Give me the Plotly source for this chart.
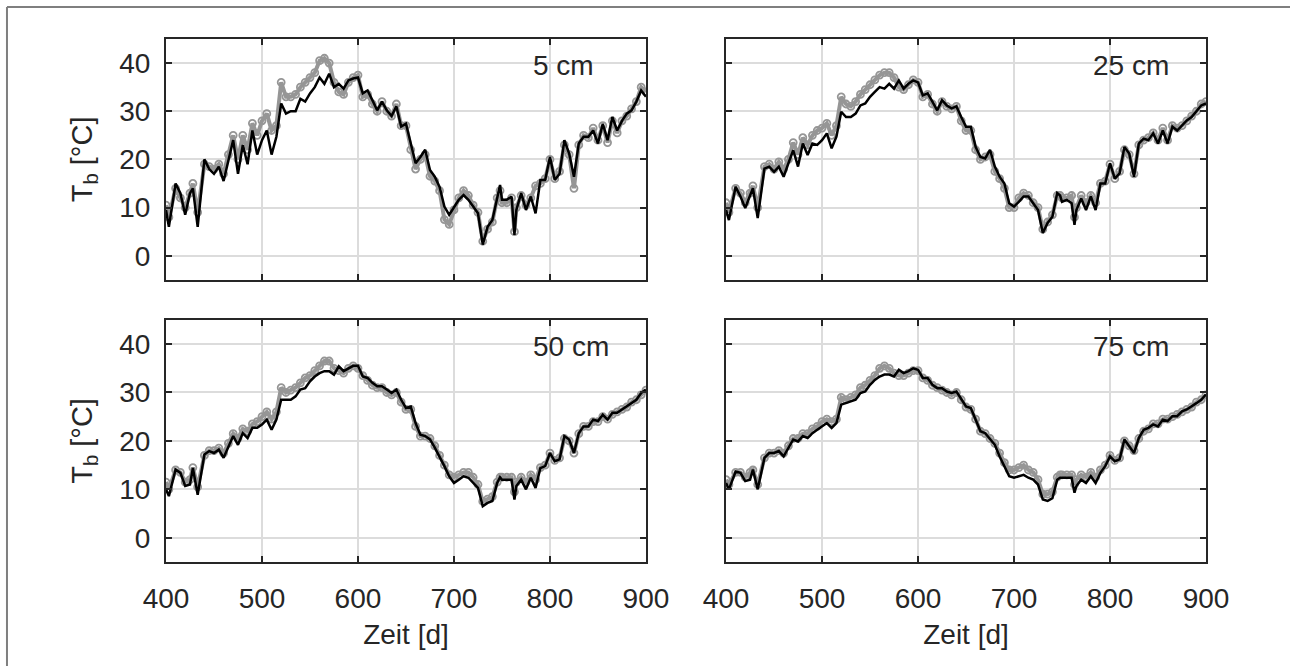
import plotly.graph_objects as go

days = [400, 403, 410, 415, 420, 425, 428, 433, 440, 445,
        450, 455, 460, 465, 470, 475, 480, 485, 490, 495,
        500, 505, 510, 515, 520, 525, 530, 535, 540, 545,
        550, 555, 560, 565, 570, 575, 580, 585, 590, 595,
        600, 605, 610, 615, 620, 625, 630, 635, 640, 645,
        650, 655, 660, 665, 670, 675, 680, 685, 690, 695,
        700, 705, 710, 715, 720, 725, 730, 735, 740, 745,
        748, 750, 755, 760, 763, 765, 770, 775, 780, 785,
        790, 795, 800, 805, 810, 815, 820, 825, 830, 835,
        840, 845, 850, 855, 860, 865, 870, 875, 880, 885,
        890, 895, 900]

sim_5 = [9.5, 6, 15, 13, 8.5, 13, 14, 6, 20, 18,
         17, 18.5, 15.5, 20, 24, 17, 23, 19, 26, 21,
         24, 26, 21, 24.7, 31.6, 29.5, 30, 30, 32.6, 32,
         33.7, 35, 37, 35.7, 37.8, 35, 35.7, 34.7, 36.4, 36.8,
         37, 33.7, 34.3, 32.3, 30.2, 32, 30.2, 29, 31, 26.8,
         27.4, 23.3, 19.2, 20.5, 22, 17.8, 16.4, 14.3, 10.2, 8.5,
         10.2, 11.6, 12.6, 11.6, 10.2, 8.8, 2.3, 6, 7.4, 12.3,
         14.7, 11.6, 11.6, 12.3, 4.3, 9.5, 13, 9.5, 12.3, 8.8,
         15.7, 15.7, 20.5, 15.7, 17, 24, 21.2, 16.4, 23.3, 24.7,
         24.7, 26, 23.3, 27.4, 24, 28.8, 26, 28, 29.5, 30.2,
         32, 34.3, 33]
meas_5 = [10.5, 8, 14, 12, 10, 13, 15, 9, 19, 18.5,
          18, 19, 17, 21, 25, 20, 25, 22, 27.5, 25,
          28, 29.5, 26, 27, 36, 33, 33, 33.5, 35, 36,
          37, 38, 40.5, 41, 40, 36, 34, 33.5, 36, 37,
          37.5, 33, 33.5, 31.5, 30, 32, 30, 29, 31.5, 27,
          27, 22, 18, 20, 21, 16.5, 15.5, 13.5, 7.5, 6.5,
          9.5, 12, 13.5, 12.5, 10.5, 9, 3, 5.5, 7, 12,
          13.5, 11, 11, 12, 5, 10, 12.5, 10.5, 12, 14.5,
          15, 16, 20, 16, 17.5, 23, 21, 14, 23, 25,
          24.5, 26.5, 24, 27, 23.5, 28, 25.5, 28, 29, 30.5,
          32, 35, 34]

sim_25 = [9.5, 7.4, 14.3, 12.3, 9.9, 12.3, 14, 7.8, 18.1, 18.5,
          17.4, 18.5, 16.4, 19.2, 21.9, 18.5, 23.3, 20.9, 23.3, 23,
          24, 25.4, 22.3, 24.7, 29.9, 28.8, 28.8, 29.5, 31.2, 31.6,
          33, 34, 35, 34.7, 35.7, 34.7, 36.4, 34.7, 35.7, 36.4,
          36, 33.3, 33.7, 32, 30.2, 32.3, 31.2, 30.6, 31, 28.8,
          26.8, 26.8, 22.6, 20.5, 20.2, 22, 18.5, 16.4, 15, 10.9,
          10.2, 11.2, 12.3, 12.3, 10.9, 9.5, 4.7, 6.8, 8.1, 13,
          12.5, 11.2, 11.6, 10.9, 6.4, 9.5, 11.9, 9.5, 12.3, 9.5,
          15, 15, 19.2, 16, 17.1, 22.6, 21.2, 16.4, 23.3, 24.3,
          24, 25.4, 23.3, 26, 23.3, 26.8, 26, 27.1, 28.1, 28.8,
          29.9, 31.2, 31.6]
meas_25 = [11, 9, 14, 13, 11, 13, 14.5, 10, 18.5, 19,
           18, 19.5, 18, 20, 23.5, 21, 24.5, 23, 25, 26,
           26.5, 27.5, 25, 27, 33, 31.5, 31, 32, 33.5, 34.5,
           35.5, 36.5, 37.5, 38, 38, 37, 35, 34.5, 35.5, 36.5,
           36, 33, 33.5, 31.5, 30, 32, 31, 30.5, 31, 28,
           26, 26, 22, 20, 20.5, 21, 17.5, 16, 14, 10,
           10, 12, 13, 12.5, 11, 10, 5.5, 7, 8.5, 12.5,
           12.5, 12, 12, 12.5, 8, 10, 12.5, 11, 12.5, 11,
           15, 15.5, 19, 16, 17.5, 22, 21, 17, 23, 24,
           24.5, 25.5, 24, 26.5, 24, 27, 26.5, 27, 28, 29,
           30, 31.5, 32]

sim_50 = [10, 8.6, 14.1, 13.4, 10.7, 11, 14.4, 8.9, 17.2, 17.9,
          17.5, 18.2, 16.5, 18.9, 21, 19.2, 21.6, 20.6, 22.7, 22.7,
          23.4, 24.4, 22.3, 24.4, 28.5, 28.5, 28.5, 29.2, 30.6, 30.9,
          32.3, 33.3, 34, 34.4, 34.4, 33.7, 35.4, 34.4, 35, 35.5,
          35.5, 33.3, 33, 32, 31.3, 31.3, 30.6, 29.9, 30.6, 28.5,
          26.8, 27.1, 23.7, 21.3, 21, 20.3, 18.6, 16.8, 14.8, 12.7,
          11.3, 12, 12.7, 12.4, 11.3, 10.3, 6.5, 7.2, 7.6, 11.3,
          12.5, 12, 12, 12, 7.9, 10.7, 12, 10, 12.4, 10.3,
          14.4, 14.8, 17.5, 15.8, 16.2, 21, 20.3, 17.5, 21.6, 23,
          23, 24.4, 24.1, 25.4, 24.4, 25.8, 25.8, 26.5, 27.1, 27.8,
          28.5, 29.9, 30.6]
meas_50 = [11.5, 10, 14, 13.5, 11.5, 12, 14.5, 10.5, 17, 18,
           18, 18.5, 17.5, 19.5, 21.5, 20.5, 22.5, 22, 23.5, 24,
           25, 26, 24.5, 26, 31, 30, 30.5, 31, 32, 33,
           33.5, 34.5, 35.5, 36.5, 36.5, 35, 34.5, 34, 35, 35.5,
           35, 33.5, 32.5, 31.5, 31, 31, 30, 29.5, 30, 28,
           26.5, 26.5, 23, 21, 21, 20.5, 19, 17, 15, 13,
           12.5, 13, 13.5, 13.5, 12.5, 11, 7.5, 8, 8.5, 11.5,
           12.5, 12.5, 12.5, 12.5, 9.5, 11.5, 12.5, 11.5, 13, 12,
           14.5, 15, 17.5, 16, 16.5, 20.5, 20, 17.5, 21.5, 23,
           23, 24, 24, 25, 24.5, 25.5, 26, 26.5, 27, 28,
           28.5, 29.5, 30.5]

sim_75 = [11.3, 10, 13.7, 13.4, 11.7, 12, 14.1, 10, 16.5, 17.5,
          17.5, 17.9, 16.8, 18.6, 20.3, 19.9, 21, 20.6, 21.6, 22.3,
          23, 23.7, 22.7, 23.7, 27.5, 27.8, 28.2, 28.5, 29.9, 30.2,
          31.6, 32.6, 33.3, 33.7, 33.7, 33.3, 34.7, 34, 34.4, 35,
          34.7, 33, 33, 31.6, 30.9, 30.9, 30.2, 29.9, 30.2, 28.5,
          27.1, 26.8, 24.4, 22, 21.6, 20.3, 19.2, 16.8, 14.8, 12.7,
          12.4, 12.7, 13, 12.4, 12, 11, 7.9, 7.6, 8.2, 12,
          12.4, 12.4, 12.4, 12.4, 9.3, 10.7, 12, 11.3, 12.7, 11.3,
          13.4, 14.8, 16.8, 15.8, 16.2, 20.3, 18.9, 17.5, 20.6, 22.3,
          22.7, 23.4, 23, 24.4, 24.1, 25.1, 25.1, 26.1, 26.5, 27.1,
          27.8, 28.5, 29.6]
meas_75 = [12, 11, 13.5, 13.5, 12.5, 13.5, 14, 11, 16.5, 17.5,
           17.5, 18, 17.5, 19, 20.5, 20.5, 21.5, 21.5, 22.5, 23,
           24, 24.5, 24, 24.5, 29, 28.5, 29, 29.5, 31, 31.5,
           32.5, 33.5, 35, 35.5, 35, 34, 33.5, 33.5, 34, 34.5,
           34.5, 33, 32.5, 31.5, 31, 30.5, 30, 29.5, 30, 28.5,
           27, 26.5, 24.5, 22, 21.5, 20.5, 19.5, 17.5, 15.5, 14,
           14, 14.5, 15, 14, 13.5, 12, 9, 9, 9.5, 12.5,
           13, 13, 13, 13, 11, 12, 13, 12.5, 13.5, 12.5,
           14, 15, 17, 16, 16.5, 20, 19, 18, 20.5, 22,
           22.5, 23.5, 23.5, 24.5, 24.5, 25, 25.5, 26, 26.5, 27,
           28, 28.5, 29.5]

depth_labels = ["5 cm", "25 cm", "50 cm", "75 cm"]
x_ticks = [400, 500, 600, 700, 800, 900]
y_ticks = [0, 10, 20, 30, 40]

panels = [(sim_5, meas_5), (sim_25, meas_25), (sim_50, meas_50), (sim_75, meas_75)]

TXT = "#262626"
FONT = "Liberation Sans, Arial, Helvetica, sans-serif"
GRAY = "rgb(150,150,150)"

fig = go.Figure()
for i, (sim, meas) in enumerate(panels):
    ax = "" if i == 0 else str(i + 1)
    fig.add_trace(go.Scatter(
        x=days, y=meas, mode="lines+markers", xaxis="x" + ax, yaxis="y" + ax,
        line=dict(color=GRAY, width=4),
        marker=dict(symbol="circle-open", size=7, color=GRAY, line=dict(width=1.8, color=GRAY)),
        showlegend=False, hoverinfo="skip"))
    fig.add_trace(go.Scatter(
        x=days, y=sim, mode="lines", xaxis="x" + ax, yaxis="y" + ax,
        line=dict(color="black", width=2.5),
        showlegend=False))

xdom = [[0.0, 0.4615], [0.5385, 1.0], [0.0, 0.4615], [0.5385, 1.0]]
ydom = [[0.5396, 1.0], [0.5396, 1.0], [0.0, 0.463], [0.0, 0.463]]

layout = dict(
    width=1290, height=666,
    margin=dict(l=166, r=84, t=39, b=104),
    paper_bgcolor="white", plot_bgcolor="white",
    font=dict(family=FONT, size=28, color=TXT),
    showlegend=False,
)

for i in range(4):
    ax = "" if i == 0 else str(i + 1)
    bottom = i >= 2
    left = i % 2 == 0
    xa = dict(
        domain=xdom[i], range=[400, 900], anchor="y" + ax,
        tickvals=x_ticks, showticklabels=bottom,
        ticks="inside", ticklen=6, tickwidth=1.5, tickcolor=TXT,
        showline=True, linecolor=TXT, linewidth=2, mirror="ticks",
        showgrid=True, gridcolor="#dcdcdc", gridwidth=1.5,
        zeroline=False, tickfont=dict(size=28, color=TXT),
        ticklabelstandoff=10,
    )
    if bottom:
        xa["title"] = dict(text="Zeit [d]", font=dict(size=28, color=TXT), standoff=12)
    ya = dict(
        domain=ydom[i], range=[-5, 45], anchor="x" + ax,
        tickvals=y_ticks, showticklabels=left,
        ticks="inside", ticklen=6, tickwidth=1.5, tickcolor=TXT,
        showline=True, linecolor=TXT, linewidth=2, mirror="ticks",
        showgrid=True, gridcolor="#dcdcdc", gridwidth=1.5,
        zeroline=False, tickfont=dict(size=28, color=TXT),
        ticklabelstandoff=8,
    )
    if left:
        ya["title"] = dict(text="T<sub>b</sub> [°C]", font=dict(size=29, color=TXT), standoff=18)
    layout["xaxis" + ax] = xa
    layout["yaxis" + ax] = ya

fig.update_layout(**layout)

for i, lab in enumerate(depth_labels):
    ax = "" if i == 0 else str(i + 1)
    fig.add_annotation(x=780, y=39.5, xref="x" + ax, yref="y" + ax, text=lab,
                       showarrow=False, xanchor="left", yanchor="middle",
                       font=dict(size=28, color=TXT))

# outer figure frame (top and left edges)
fig.add_shape(type="line", xref="paper", yref="paper",
              x0=-0.1529, x1=1.09, y0=1.0611, y1=1.0611,
              line=dict(color="#7f7f7f", width=2))
fig.add_shape(type="line", xref="paper", yref="paper",
              x0=-0.1529, x1=-0.1529, y0=1.0611, y1=-0.3,
              line=dict(color="#7f7f7f", width=2))

fig.write_html("out.html", config={"displayModeBar": False},
               post_script="document.body.style.margin='0';")
